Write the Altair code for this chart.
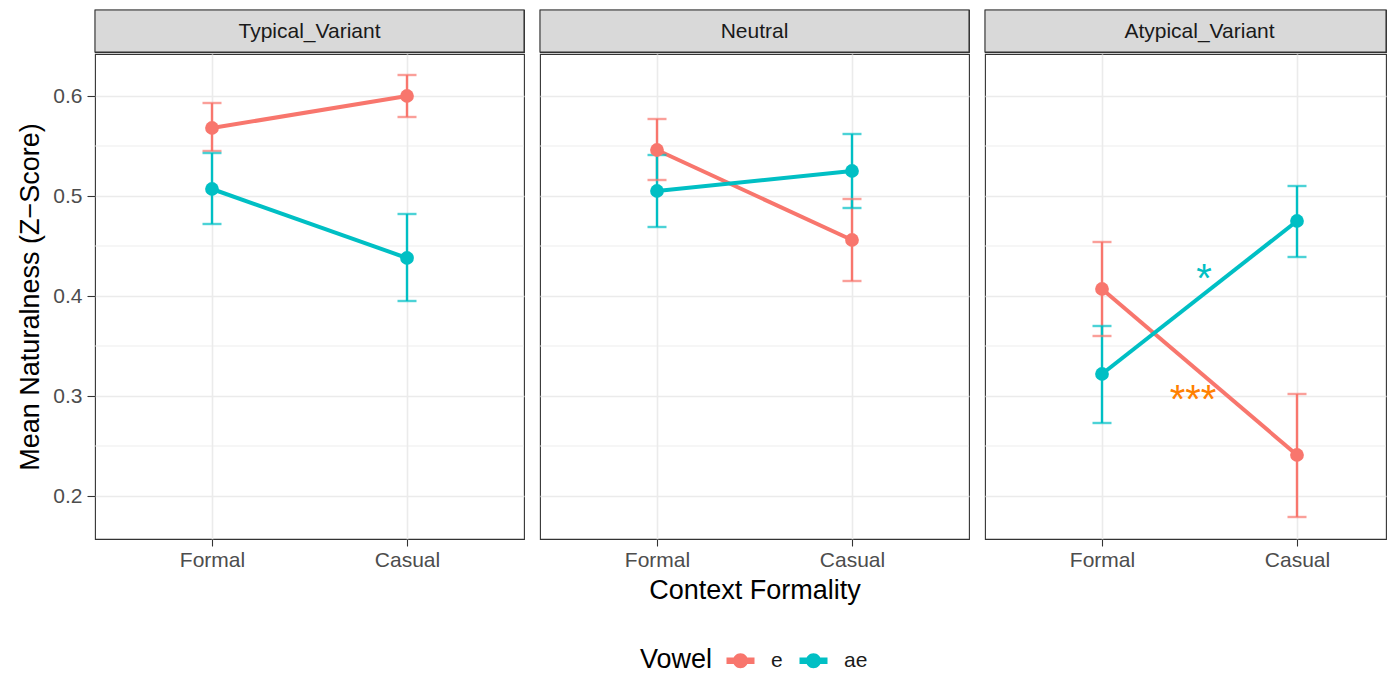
import altair as alt
import pandas as pd

panels = ["Typical_Variant", "Neutral", "Atypical_Variant"]
contexts = ["Formal", "Casual"]
vowels = ["e", "ae"]
vowel_colors = ["#F8766D", "#00BFC4"]

# per panel: [Formal, Casual]
e_mean = [[0.568, 0.600], [0.546, 0.456], [0.407, 0.241]]
e_low = [[0.545, 0.579], [0.516, 0.415], [0.360, 0.179]]
e_high = [[0.593, 0.621], [0.577, 0.497], [0.454, 0.302]]
ae_mean = [[0.507, 0.438], [0.505, 0.525], [0.322, 0.475]]
ae_low = [[0.472, 0.395], [0.469, 0.488], [0.273, 0.439]]
ae_high = [[0.543, 0.482], [0.541, 0.562], [0.370, 0.510]]

y_ticks = [0.2, 0.3, 0.4, 0.5, 0.6]
y_minor = [0.25, 0.35, 0.45, 0.55]
y_domain = [0.157, 0.642]

ann_panel = "Atypical_Variant"
ann_text = ["*", "***"]
ann_x = [0.523, 0.467]
ann_y = [0.404, 0.283]
ann_color = ["#00BFC4", "#FF8000"]

rows = []
for pi, p in enumerate(panels):
    for v, m, lo, hi in [("e", e_mean, e_low, e_high), ("ae", ae_mean, ae_low, ae_high)]:
        for ci, c in enumerate(contexts):
            rows.append({"panel": p, "vowel": v, "context": c, "idx": ci,
                         "mean": m[pi][ci], "low": lo[pi][ci], "high": hi[pi][ci]})
df = pd.DataFrame(rows)

WIDTHS = [429, 429, 401]
FULL_W = 429
H = 485
STRIP_H = 42
GRID = "#EBEBEB"
FONT = "Liberation Sans"

label_expr = "[" + ",".join("'%s'" % c for c in contexts) + "][datum.value]"
legend_path = ("M-2,-0.45L2,-0.45L2,0.45L-2,0.45Z "
               "M1.07,0A1.07,1.07,0,1,1,-1.07,0A1.07,1.07,0,1,1,1.07,0Z")

legend = alt.Legend(
    orient="none", legendX=545, legendY=640, direction="horizontal",
    titleOrient="left", title="Vowel", titleFontSize=27, titleFontWeight="normal",
    titleColor="#000000", titlePadding=17, titleFont=FONT,
    labelFontSize=21, labelColor="#1A1A1A", labelFont=FONT, labelOffset=20,
    columnPadding=16, symbolType=legend_path, symbolSize=196,
    symbolStrokeWidth=0, symbolOpacity=1, padding=0,
)

# points carry the legend; lines / bars use stroke & fill scales kept apart from it
color_scale = alt.Scale(domain=vowels, range=vowel_colors)
other_scale = alt.Scale(range=vowel_colors)


def make_panel(i, p):
    W = WIDTHS[i]
    d = df[df["panel"] == p]
    if i == 0:
        yaxis = alt.Axis(values=y_ticks, format=".1f", title="Mean Naturalness (Z\u2212Score)",
                         titleFontSize=27, titleFontWeight="normal", titleColor="#000000",
                         titleFont=FONT, titlePadding=8,
                         labelFontSize=21, labelColor="#4D4D4D", labelFont=FONT,
                         labelPadding=5, tickSize=8, tickColor="#333333", tickWidth=1.1,
                         domain=False, grid=True, gridColor=GRID, gridWidth=1.6)
    else:
        yaxis = alt.Axis(values=y_ticks, labels=False, ticks=False, domain=False, title=None,
                         grid=True, gridColor=GRID, gridWidth=1.6)
    xaxis = alt.Axis(values=[0, 1], labelExpr=label_expr,
                     title="Context Formality" if i == 1 else None,
                     titleFontSize=27, titleFontWeight="normal", titleColor="#000000",
                     titleFont=FONT, titlePadding=7,
                     labelFontSize=21, labelColor="#4D4D4D", labelFont=FONT,
                     labelPadding=3, tickSize=7, tickColor="#333333", tickWidth=1.1,
                     domain=False, grid=True, gridColor=GRID, gridWidth=1.6)
    x_domain = [-0.6, -0.6 + 2.2 * W / FULL_W]
    xs = alt.Scale(domain=x_domain, nice=False, zero=False)
    ys = alt.Scale(domain=y_domain, nice=False, zero=False)

    minor = alt.Chart(pd.DataFrame({"v": y_minor})).mark_rule(
        color=GRID, strokeWidth=0.9).encode(y=alt.Y("v:Q", scale=ys, axis=yaxis))

    base = alt.Chart(d)
    stroke = alt.Stroke("vowel:N", sort=vowels, scale=other_scale, legend=None)
    fill = alt.Fill("vowel:N", sort=vowels, scale=other_scale, legend=None)
    line = base.mark_line(strokeWidth=4).encode(
        x=alt.X("idx:Q", scale=xs, axis=xaxis), y=alt.Y("mean:Q", scale=ys), stroke=stroke)
    err = base.mark_rule(strokeWidth=2.4).encode(
        x=alt.X("idx:Q", scale=xs), y=alt.Y("low:Q", scale=ys), y2="high:Q", stroke=stroke)
    cap_lo = base.mark_tick(orient="horizontal", size=19, thickness=2.4).encode(
        x=alt.X("idx:Q", scale=xs), y=alt.Y("low:Q", scale=ys), fill=fill)
    cap_hi = base.mark_tick(orient="horizontal", size=19, thickness=2.4).encode(
        x=alt.X("idx:Q", scale=xs), y=alt.Y("high:Q", scale=ys), fill=fill)
    pts = base.mark_point(filled=True, size=190, opacity=1).encode(
        x=alt.X("idx:Q", scale=xs), y=alt.Y("mean:Q", scale=ys),
        color=alt.Color("vowel:N", scale=color_scale, legend=legend))
    layers = [minor, line, err, cap_lo, cap_hi, pts]
    if p == ann_panel:
        for t, ax, ay, ac in zip(ann_text, ann_x, ann_y, ann_color):
            layers.append(
                alt.Chart(pd.DataFrame({"t": [t], "x": [ax], "y": [ay]})).mark_text(
                    fontSize=40, color=ac, font=FONT, baseline="alphabetic", align="center"
                ).encode(x=alt.X("x:Q", scale=xs), y=alt.Y("y:Q", scale=ys), text="t:N")
            )
    plot = alt.layer(*layers).properties(width=W, height=H)

    sdf = pd.DataFrame({"panel": [p]})
    strip_bg = alt.Chart(sdf).mark_rect(fill="#D9D9D9", stroke="#333333", strokeWidth=1.1).encode(
        x=alt.value(0), x2=alt.value(W), y=alt.value(0), y2=alt.value(STRIP_H))
    strip_txt = alt.Chart(sdf).mark_text(fontSize=21, color="#1A1A1A", font=FONT,
                                         baseline="middle").encode(
        text="panel:N", x=alt.value(FULL_W / 2), y=alt.value(STRIP_H / 2 + 1))
    strip = alt.layer(strip_bg, strip_txt).properties(width=W, height=STRIP_H)
    return alt.vconcat(strip, plot, spacing=-7)


chart = alt.hconcat(*[make_panel(i, p) for i, p in enumerate(panels)], spacing=12).properties(
    padding={"left": 8, "top": 0, "right": 0, "bottom": 0},
).configure(font=FONT).configure_view(stroke="#333333", strokeWidth=1.1)

chart.save("out.html", embed_options={"renderer": "svg", "actions": False})
